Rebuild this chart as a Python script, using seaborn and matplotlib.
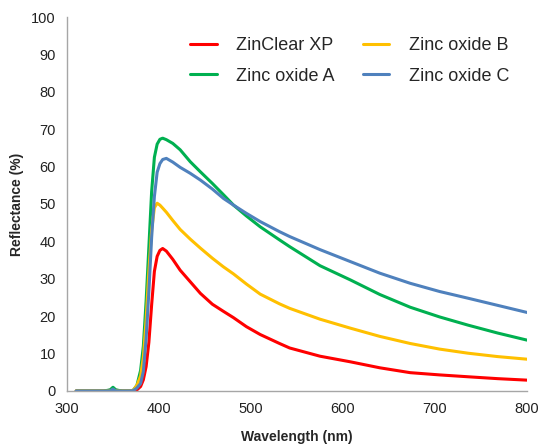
import pandas as pd
import matplotlib
matplotlib.use("Agg")
import matplotlib.pyplot as plt
import seaborn as sns

# Wavelength grid (nm) and reflectance (%)
wavelength = [310, 340, 347, 350, 353, 360, 368, 372, 376, 380, 383, 386, 389, 392,
              395, 398, 401, 404, 408, 415, 423, 434, 445, 458, 470, 481, 495, 510,
              531, 542, 575, 608, 640, 673, 705, 736, 768, 800]
zinclear_xp = [0, 0, 0.2, 0.8, 0.2, 0, 0, 0, 0.3, 1.2, 3, 6.5, 13, 23,
               32, 36, 37.6, 38.1, 37.4, 35.2, 32.3, 29.2, 26.1, 23.2, 21.3, 19.6, 17.2, 15.1,
               12.7, 11.5, 9.3, 7.8, 6.2, 4.9, 4.3, 3.8, 3.3, 2.9]
zinc_oxide_a = [0, 0, 0.3, 1.0, 0.3, 0, 0, 0.2, 1.5, 5.5, 12, 24, 38.5, 53.3,
                62.5, 66, 67.3, 67.6, 67.2, 66.2, 64.5, 61.3, 58.6, 55.5, 52.5, 49.7, 46.8, 43.9,
                40.4, 38.6, 33.5, 29.7, 25.8, 22.4, 19.8, 17.6, 15.5, 13.6]
zinc_oxide_b = [0, 0, 0, 0.3, 0, 0, 0, 0.2, 1.5, 4, 9, 19, 32, 43,
                49, 50.2, 49.7, 48.9, 47.8, 45.6, 43.2, 40.6, 38.2, 35.5, 33.2, 31.3, 28.6, 25.9,
                23.3, 22.1, 19.2, 16.8, 14.6, 12.7, 11.2, 10.1, 9.2, 8.5]
zinc_oxide_c = [0, 0, 0, 0.5, 0, 0, 0, 0.1, 0.8, 2, 5.2, 14, 26.5, 41,
                52, 58.5, 60.8, 61.9, 62.2, 61.2, 59.8, 58.2, 56.4, 54, 51.5, 49.7, 47.5, 45.3,
                42.6, 41.3, 37.8, 34.6, 31.5, 28.8, 26.6, 24.8, 22.9, 21]

series = ["ZinClear XP", "Zinc oxide A", "Zinc oxide B", "Zinc oxide C"]
colors = ["#FF0000", "#00B050", "#FFC000", "#4F81BD"]

df = pd.DataFrame({"wavelength": wavelength, "ZinClear XP": zinclear_xp,
                   "Zinc oxide A": zinc_oxide_a, "Zinc oxide B": zinc_oxide_b,
                   "Zinc oxide C": zinc_oxide_c})
df_long = df.melt(id_vars="wavelength", var_name="sample", value_name="reflectance")

sns.set_style("white")
plt.rcParams["font.family"] = ["Liberation Sans", "DejaVu Sans"]

fig = plt.figure(figsize=(5.38, 4.44), dpi=100)
ax = fig.add_axes([0.1245, 0.1194, 0.8551, 0.8423])

sns.lineplot(data=df_long, x="wavelength", y="reflectance", hue="sample",
             hue_order=series, palette=colors, linewidth=2.2, ax=ax)

ax.set_xlim(300, 800)
ax.set_ylim(0, 100)
ax.set_xticks(range(300, 801, 100))
ax.set_yticks(range(0, 101, 10))
ax.tick_params(axis="both", length=0, labelsize=10.5, colors="#222222", pad=8)
ax.set_xlabel("Wavelength (nm)", fontsize=10, fontweight="bold", labelpad=10)
ax.set_ylabel("Reflectance (%)", fontsize=10, fontweight="bold", labelpad=5)

sns.despine(ax=ax)
for side in ["left", "bottom"]:
    ax.spines[side].set_color("#A6A6A6")
    ax.spines[side].set_linewidth(1)

ax.legend(ncol=2, frameon=False, fontsize=13, loc="upper left",
          bbox_to_anchor=(0.233, 0.99), handlelength=1.45, handletextpad=1.1,
          columnspacing=1.55, labelspacing=0.75)

fig.savefig("out.png", dpi=100)
